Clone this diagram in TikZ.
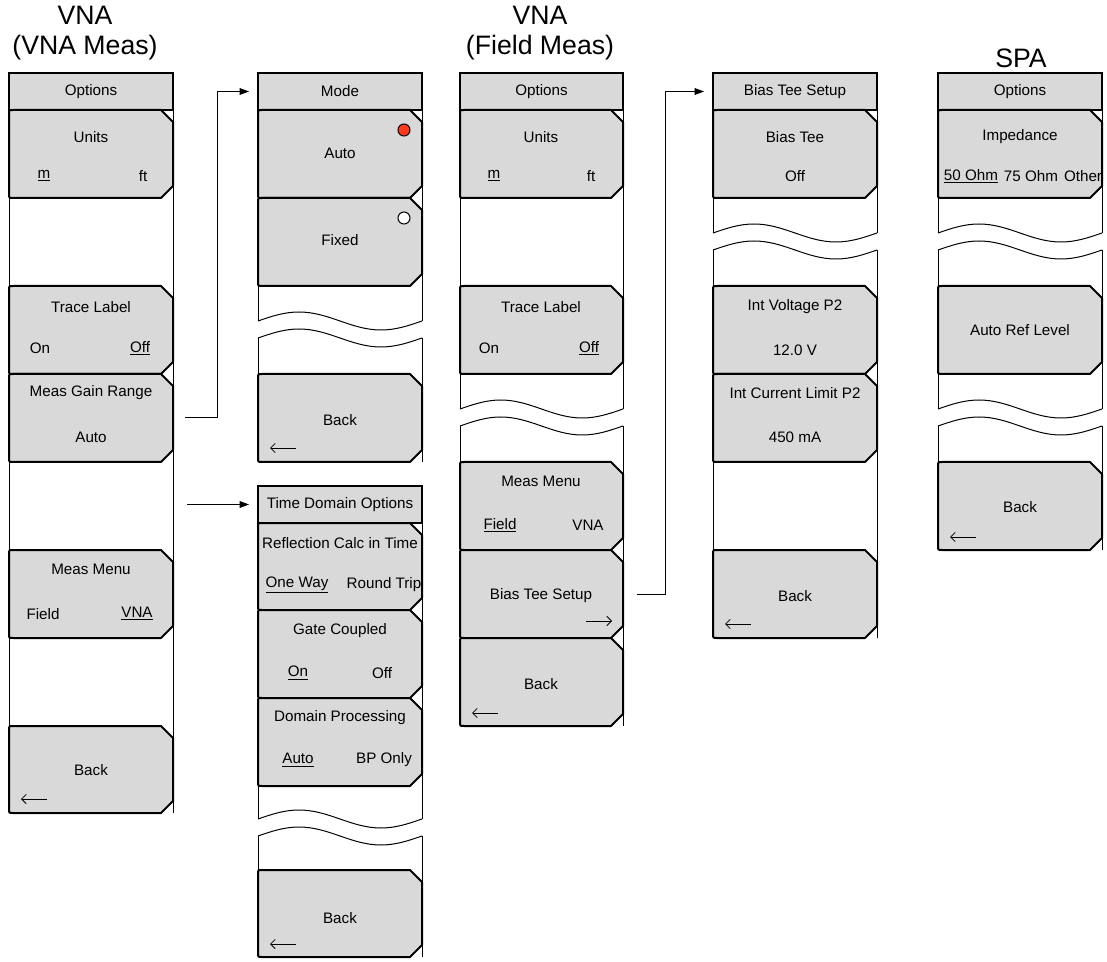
\documentclass[tikz,border=0pt]{standalone}
\usepackage{fontspec}
\setmainfont{Liberation Sans}
\usetikzlibrary{arrows.meta,fit}
\definecolor{btngray}{HTML}{D9D9D9}
\definecolor{dotred}{HTML}{FF3A1C}
\tikzset{
  frameline/.style={line width=0.75pt},
  btnshape/.style={fill=btngray, draw=black, line width=1.5pt, line join=round},
  hdrshape/.style={fill=btngray, draw=black, line width=1.5pt, inner sep=0pt},
  lbl/.style={font=\fontsize{11.4}{13}\selectfont, inner sep=0pt},
  ttl/.style={font=\fontsize{20}{23}\selectfont, inner sep=0pt},
  wave/.style={line width=0.75pt},
  conn/.style={line width=0.75pt, -{Triangle[length=7pt,width=5pt]}},
  box/.style={inner sep=0pt, draw=none},
  backarrow/.style={line width=0.6pt, {Straight Barb[length=3.5pt,width=7pt]}-},
  fwdarrow/.style={line width=0.6pt, -{Straight Barb[length=3.5pt,width=7pt]}},
}
\newcommand\Btn[5]{%
  \draw[btnshape] ({#3-12},#4) -- (#3,{#4+12}) -- (#3,{#5-12}) -- ({#3-12},#5) -- ({#2+4},#5) .. controls (#2,#5) .. (#2,{#5-4}) -- (#2,{#4+4}) .. controls (#2,#4) .. ({#2+4},#4) -- cycle;
  \node[box, fit={(#2,#4)(#3,#5)}] (#1) {};
}
\newcommand\Hdr[6]{%
  \node[hdrshape, fit={(#2,#4)(#3,#5)}] (#1) {};
  \node[lbl] (#1-t) at (#1.center) {#6};
}
\newcommand\Wave[3]{%
  \draw[wave] (#1,#3) sin ({#1+(#2-#1)/4},{#3-9}) cos ({(#1+#2)/2},#3) sin ({#1+3*(#2-#1)/4},{#3+9}) cos (#2,#3);
}
\begin{document}
\begin{tikzpicture}[x=0.75pt,y=-0.75pt]
\useasboundingbox (0,0) rectangle (1107,962);

% titles
\node[ttl] (t1a) at (85,15) {VNA};
\node[ttl] (t1b) at (85,48) {(VNA Meas)};
\node[ttl] (t3a) at (540,15) {VNA};
\node[ttl] (t3b) at (540,48) {(Field Meas)};
\node[ttl] (t5a) at (1021,58) {SPA};

% frames
\draw[frameline] (9,73) -- (9,813) (173,73) -- (173,813);
\draw[frameline] (258,73) -- (258,321) (258,338) -- (258,462) (422,73) -- (422,321) (422,338) -- (422,462);
\draw[frameline] (258,486) -- (258,819) (258,836) -- (258,957) (422,486) -- (422,819) (422,836) -- (422,957);
\draw[frameline] (460,73) -- (460,409) (460,426) -- (460,726) (623,73) -- (623,409) (623,426) -- (623,726);
\draw[frameline] (713,73) -- (713,233) (713,250) -- (713,638) (877,73) -- (877,233) (877,250) -- (877,638);
\draw[frameline] (938,73) -- (938,233) (938,250) -- (938,409) (938,426) -- (938,550) (1102,73) -- (1102,233) (1102,250) -- (1102,409) (1102,426) -- (1102,550);

% waves
\Wave{258}{422}{321}\Wave{258}{422}{338}
\Wave{258}{422}{819}\Wave{258}{422}{836}
\Wave{460}{623}{409}\Wave{460}{623}{426}
\Wave{713}{877}{233}\Wave{713}{877}{250}
\Wave{938}{1102}{233}\Wave{938}{1102}{250}
\Wave{938}{1102}{409}\Wave{938}{1102}{426}

% ---------- column 1
\Hdr{h1}{9}{173}{73}{110}{Options}
\Btn{u1}{9}{173}{110}{198}
\node[lbl] (u1a) at (91,137) {Units};
\node[lbl] (u1b) at (44,176) {\underline{m}};
\node[lbl] (u1c) at (143,176) {ft};
\Btn{tl1}{9}{173}{286}{374}
\node[lbl] (tl1a) at (91,307) {Trace Label};
\node[lbl] (tl1b) at (40,348) {On};
\node[lbl] (tl1c) at (140,348) {\underline{Off}};
\Btn{mg1}{9}{173}{374}{462}
\node[lbl] (mg1a) at (91,393) {Meas Gain Range};
\node[lbl] (mg1b) at (91,437) {Auto};
\Btn{mm1}{9}{173}{550}{638}
\node[lbl] (mm1a) at (91,569) {Meas Menu};
\node[lbl] (mm1b) at (43,614) {Field};
\node[lbl] (mm1c) at (137,614) {\underline{VNA}};
\Btn{bk1}{9}{173}{726}{813}
\node[lbl] (bk1a) at (91,770) {Back};
\coordinate (bk1l) at (21,799); \coordinate (bk1r) at (47,799);
\draw[backarrow] (bk1l) -- (bk1r);

% ---------- column 2 top
\Hdr{mode}{258}{422}{73}{110}{Mode}
\Btn{auto}{258}{422}{110}{198}
\node[lbl] (autoa) at (340,153) {Auto};
\draw[fill=dotred, line width=0.75pt] (404,130) circle[radius=6];
\Btn{fixed}{258}{422}{198}{286}
\node[lbl] (fixeda) at (340,240) {Fixed};
\draw[fill=white, line width=0.75pt] (404,218) circle[radius=6];
\Btn{bk2}{258}{422}{374}{462}
\node[lbl] (bk2a) at (340,420) {Back};
\coordinate (bk2l) at (270,448); \coordinate (bk2r) at (296,448);
\draw[backarrow] (bk2l) -- (bk2r);

% ---------- column 2 bottom
\Hdr{tdh}{258}{422}{486}{523}{Time Domain Options}
\Btn{rc}{258}{422}{523}{610}
\node[lbl] (rca) at (340,543) {Reflection Calc in Time};
\node[lbl] (rcb) at (297,585) {\underline{One Way}};
\node[lbl] (rcc) at (384,585) {Round Trip};
\Btn{gc}{258}{422}{610}{698}
\node[lbl] (gca) at (340,631) {Gate Coupled};
\node[lbl] (gcb) at (298,673) {\underline{On}};
\node[lbl] (gcc) at (382,673) {Off};
\Btn{dp}{258}{422}{698}{786}
\node[lbl] (dpa) at (340,718) {Domain Processing};
\node[lbl] (dpb) at (298,760) {\underline{Auto}};
\node[lbl] (dpc) at (384,760) {BP Only};
\Btn{bk3}{258}{422}{870}{957}
\node[lbl] (bk3a) at (340,918) {Back};
\coordinate (bk3l) at (270,944); \coordinate (bk3r) at (296,944);
\draw[backarrow] (bk3l) -- (bk3r);

% ---------- column 3
\Hdr{h3}{460}{623}{73}{110}{Options}
\Btn{u3}{460}{623}{110}{198}
\node[lbl] (u3a) at (541,137) {Units};
\node[lbl] (u3b) at (494,176) {\underline{m}};
\node[lbl] (u3c) at (591,176) {ft};
\Btn{tl3}{460}{623}{286}{374}
\node[lbl] (tl3a) at (541,307) {Trace Label};
\node[lbl] (tl3b) at (489,348) {On};
\node[lbl] (tl3c) at (589,348) {\underline{Off}};
\Btn{mm3}{460}{623}{462}{550}
\node[lbl] (mm3a) at (541,481) {Meas Menu};
\node[lbl] (mm3b) at (500,525) {\underline{Field}};
\node[lbl] (mm3c) at (588,525) {VNA};
\Btn{bts}{460}{623}{550}{638}
\node[lbl] (btsa) at (541,596) {Bias Tee Setup};
\coordinate (btsl) at (586,621); \coordinate (btsr) at (612,621);
\draw[fwdarrow] (btsl) -- (btsr);
\Btn{bk4}{460}{623}{638}{726}
\node[lbl] (bk4a) at (541,684) {Back};
\coordinate (bk4l) at (472,713); \coordinate (bk4r) at (498,713);
\draw[backarrow] (bk4l) -- (bk4r);

% ---------- column 4
\Hdr{bth}{713}{877}{73}{110}{Bias Tee Setup}
\Btn{bt}{713}{877}{110}{198}
\node[lbl] (bta) at (795,137) {Bias Tee};
\node[lbl] (btb) at (795,176) {Off};
\Btn{iv}{713}{877}{286}{374}
\node[lbl] (iva) at (795,307) {Int Voltage P2};
\node[lbl] (ivb) at (795,350) {12.0 V};
\Btn{ic}{713}{877}{374}{462}
\node[lbl] (ica) at (795,393) {Int Current Limit P2};
\node[lbl] (icb) at (795,437) {450 mA};
\Btn{bk5}{713}{877}{550}{638}
\node[lbl] (bk5a) at (795,596) {Back};
\coordinate (bk5l) at (725,624); \coordinate (bk5r) at (751,624);
\draw[backarrow] (bk5l) -- (bk5r);

% ---------- column 5
\Hdr{h5}{938}{1102}{73}{110}{Options}
\Btn{imp}{938}{1102}{110}{198}
\node[lbl] (impa) at (1020,137) {Impedance};
\node[lbl] (impb) at (971,176) {\underline{50 Ohm}};
\node[lbl] (impc) at (1031,176) {75 Ohm};
\node[lbl] (impd) at (1083,176) {Other};
\Btn{arl}{938}{1102}{286}{374}
\node[lbl] (arla) at (1020,330) {Auto Ref Level};
\Btn{bk6}{938}{1102}{462}{550}
\node[lbl] (bk6a) at (1020,507) {Back};
\coordinate (bk6l) at (950,537); \coordinate (bk6r) at (976,537);
\draw[backarrow] (bk6l) -- (bk6r);

% ---------- connectors
\coordinate (k1) at (217,0);
\draw[conn, shorten <=9pt, shorten >=6pt] (mg1.east) -- (mg1.east -| k1) |- (mode.west);
\coordinate (td0) at (187,504.5);
\draw[conn, shorten >=6pt] (td0) -- (tdh.west);
\coordinate (k3) at (665,0);
\draw[conn, shorten <=10pt, shorten >=6pt] (bts.east) -- (bts.east -| k3) |- (bth.west);
\end{tikzpicture}
\end{document}
